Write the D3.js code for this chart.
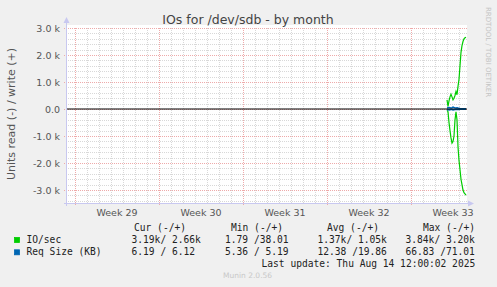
<!DOCTYPE html>
<meta charset="utf-8">
<style>
    body {
        margin: 0;
        overflow: hidden;
        background: #f0f0f0;
    }
    text {
        font-family: "DejaVu Sans", sans-serif;
    }
    .mono {
        font-family: "DejaVu Sans Mono", monospace;
        font-size: 9.6px;
        fill: #222;
    }
</style>
<div id="container"></div>
<script src="https://cdn.jsdelivr.net/npm/d3@7"></script>
<script>
    const width = 497, height = 287;

    // time window of the month graph (2h per pixel)
    const startTime = new Date(2025, 6, 13, 8);
    const endTime = new Date(2025, 7, 15, 16);
    const lastPoint = new Date(2025, 7, 15, 14);

    // IO/sec in units, last 20 samples (2h steps)
    const ioWrite = [340, 100, 300, 450, 550, 450, 340, 400, 500, 650, 530, 840, 1100, 1600, 2100, 2350, 2500, 2600, 2640, 2660];
    const ioRead = [50, 100, 500, 800, 1070, 1260, 1200, 1000, 400, 100, 400, 1400, 1900, 2250, 2600, 2800, 3000, 3100, 3140, 3190];
    // Req size (KB)
    const reqWrite = [40, 45, 50, 45, 40, 50, 70, 55, 45, 40, 45, 35, 30, 10, 7, 6, 6, 6, 6, 6];
    const reqRead = [20, 25, 30, 25, 20, 20, 30, 25, 20, 20, 20, 15, 12, 8, 7, 6, 6, 6, 6, 6];

    const yTicks = [-3000, -2000, -1000, 0, 1000, 2000, 3000];

    const legendHead = ["Cur (-/+)", "Min (-/+)", "Avg (-/+)", "Max (-/+)"];
    const legendRows = [
        {name: "IO/sec", color: "#00cc00", vals: ["3.19k/ 2.66k", "1.79 /38.01", "1.37k/ 1.05k", "3.84k/ 3.20k"]},
        {name: "Req Size (KB)", color: "#0066b3", vals: ["6.19 / 6.12", "5.36 / 5.19", "12.38 /19.86", "66.83 /71.01"]}
    ];

    const times = ioWrite.map((d, i) => d3.timeHour.offset(lastPoint, -2 * (ioWrite.length - 1 - i)));

    const pLeft = 67, pRight = 467, pTop = 28, pBottom = 203;
    const x = d3.scaleTime().domain([startTime, endTime]).range([pLeft, pRight]);
    const y = d3.scaleLinear().domain([-3480, 3000]).range([pBottom, pTop]);

    const svg = d3.select("#container").append("svg")
        .attr("width", width)
        .attr("height", height);

    svg.append("rect").attr("width", width).attr("height", height).attr("fill", "#f0f0f0");
    svg.append("rect")
        .attr("x", pLeft).attr("y", pTop - 3)
        .attr("width", pRight - pLeft).attr("height", pBottom - pTop + 3)
        .attr("fill", "#fff");

    // minor grid
    const days = d3.timeDay.range(startTime, endTime).filter(d => d.getDay() !== 1);
    svg.append("g").selectAll("line").data(days).join("line")
        .attr("x1", d => Math.round(x(d)) + 0.5).attr("x2", d => Math.round(x(d)) + 0.5)
        .attr("y1", pTop).attr("y2", pBottom)
        .attr("stroke", "#d8d8d8").attr("stroke-dasharray", "1,1");

    const minorY = d3.range(-3400, 3001, 200).filter(v => v % 1000 !== 0);
    svg.append("g").selectAll("line").data(minorY).join("line")
        .attr("x1", pLeft - 1).attr("x2", pRight)
        .attr("y1", d => Math.round(y(d)) + 0.5).attr("y2", d => Math.round(y(d)) + 0.5)
        .attr("stroke", "#d8d8d8").attr("stroke-dasharray", "1,1");

    // major grid
    const weeks = d3.timeMonday.range(startTime, endTime);
    svg.append("g").selectAll("line").data(weeks).join("line")
        .attr("x1", d => Math.round(x(d)) + 0.5).attr("x2", d => Math.round(x(d)) + 0.5)
        .attr("y1", pTop).attr("y2", pBottom + 3)
        .attr("stroke", "#eeaaaa").attr("stroke-dasharray", "1,1");

    svg.append("g").selectAll("line").data(yTicks).join("line")
        .attr("x1", pLeft - 3).attr("x2", pRight)
        .attr("y1", d => Math.round(y(d)) + 0.5).attr("y2", d => Math.round(y(d)) + 0.5)
        .attr("stroke", "#eeaaaa").attr("stroke-dasharray", "1,1");

    // axes
    const axisColor = "#c8c8f0";
    svg.append("line").attr("x1", pLeft - 0.5).attr("x2", pLeft - 0.5).attr("y1", pTop - 6).attr("y2", pBottom + 3)
        .attr("stroke", axisColor);
    svg.append("line").attr("x1", pLeft - 3).attr("x2", pRight + 2).attr("y1", pBottom + 0.5).attr("y2", pBottom + 0.5)
        .attr("stroke", axisColor);
    svg.append("path").attr("d", `M${pLeft - 3.5},${pTop - 5}L${pLeft + 2.5},${pTop - 5}L${pLeft - 0.5},${pTop - 11}Z`).attr("fill", axisColor);
    svg.append("path").attr("d", `M${pRight + 1},${pBottom - 2.5}L${pRight + 1},${pBottom + 3.5}L${pRight + 7},${pBottom + 0.5}Z`).attr("fill", axisColor);

    // y labels
    const fmtK = v => v === 0 ? "0.0" : (v < 0 ? "-" : "") + (Math.abs(v) / 1000).toFixed(1) + " k";
    svg.append("g").selectAll("text").data(yTicks).join("text")
        .attr("x", 60).attr("y", d => y(d) + 3.5)
        .attr("text-anchor", "end")
        .attr("font-size", 9.5)
        .attr("fill", "#555")
        .text(fmtK);

    // x labels
    svg.append("g").selectAll("text").data(weeks).join("text")
        .attr("x", d => x(d3.timeHour.offset(d, 84)))
        .attr("y", 216)
        .attr("text-anchor", "middle")
        .attr("font-size", 9.5)
        .attr("fill", "#555")
        .text(d => d3.timeFormat("Week %V")(d));

    // data
    const line = d3.line().x((d, i) => x(times[i])).y(d => y(d));
    svg.append("path").datum(ioWrite).attr("d", line).attr("fill", "none").attr("stroke", "#00cc00").attr("stroke-width", 1.2);
    svg.append("path").datum(ioRead.map(v => -v)).attr("d", line).attr("fill", "none").attr("stroke", "#00cc00").attr("stroke-width", 1.2);
    svg.append("path").datum(reqWrite).attr("d", line).attr("fill", "none").attr("stroke", "#0066b3").attr("stroke-width", 1.6);
    svg.append("path").datum(reqRead.map(v => -v)).attr("d", line).attr("fill", "none").attr("stroke", "#0066b3").attr("stroke-width", 1.6);

    svg.append("line").attr("x1", pLeft).attr("x2", pRight).attr("y1", y(0)).attr("y2", y(0))
        .attr("stroke", "#000").attr("stroke-width", 1.2);

    // titles
    svg.append("text").attr("x", 248).attr("y", 24).attr("text-anchor", "middle")
        .attr("font-size", 12.5).attr("fill", "#444")
        .text("IOs for /dev/sdb - by month");

    svg.append("text").attr("transform", "translate(14.5,114) rotate(-90)")
        .attr("text-anchor", "middle").attr("font-size", 11).attr("fill", "#555")
        .text("Units read (-) / write (+)");

    svg.append("text").attr("transform", "translate(486,52) rotate(90)")
        .attr("text-anchor", "middle").attr("font-size", 7).attr("fill", "#c4c4c4")
        .text("RRDTOOL / TOBI OETIKER");

    // legend
    const colX = [134, 231, 327, 423];
    const valX = [131.5, 225, 317.5, 405.5];
    svg.append("g").selectAll("text").data(legendHead).join("text")
        .attr("class", "mono").attr("x", (d, i) => colX[i]).attr("y", 231)
        .text(d => d);

    legendRows.forEach((row, r) => {
        const by = 243 + r * 12.3;
        svg.append("rect").attr("x", 14.5).attr("y", by - 5.5).attr("width", 5).attr("height", 5)
            .attr("fill", row.color).attr("stroke", row.color).attr("stroke-width", 0.8);
        svg.append("text").attr("class", "mono").attr("x", 26.5).attr("y", by).text(row.name);
        svg.append("g").selectAll("text").data(row.vals).join("text")
            .attr("class", "mono").attr("x", (d, i) => valX[i]).attr("y", by)
            .style("white-space", "pre")
            .text(d => d);
    });

    svg.append("text").attr("class", "mono").attr("x", 261.5).attr("y", 267)
        .style("white-space", "pre")
        .text("Last update: Thu Aug 14 12:00:02 2025");

    svg.append("text").attr("x", 223).attr("y", 278).attr("font-size", 7.5).attr("fill", "#c8c8c8")
        .text("Munin 2.0.56");
</script>
